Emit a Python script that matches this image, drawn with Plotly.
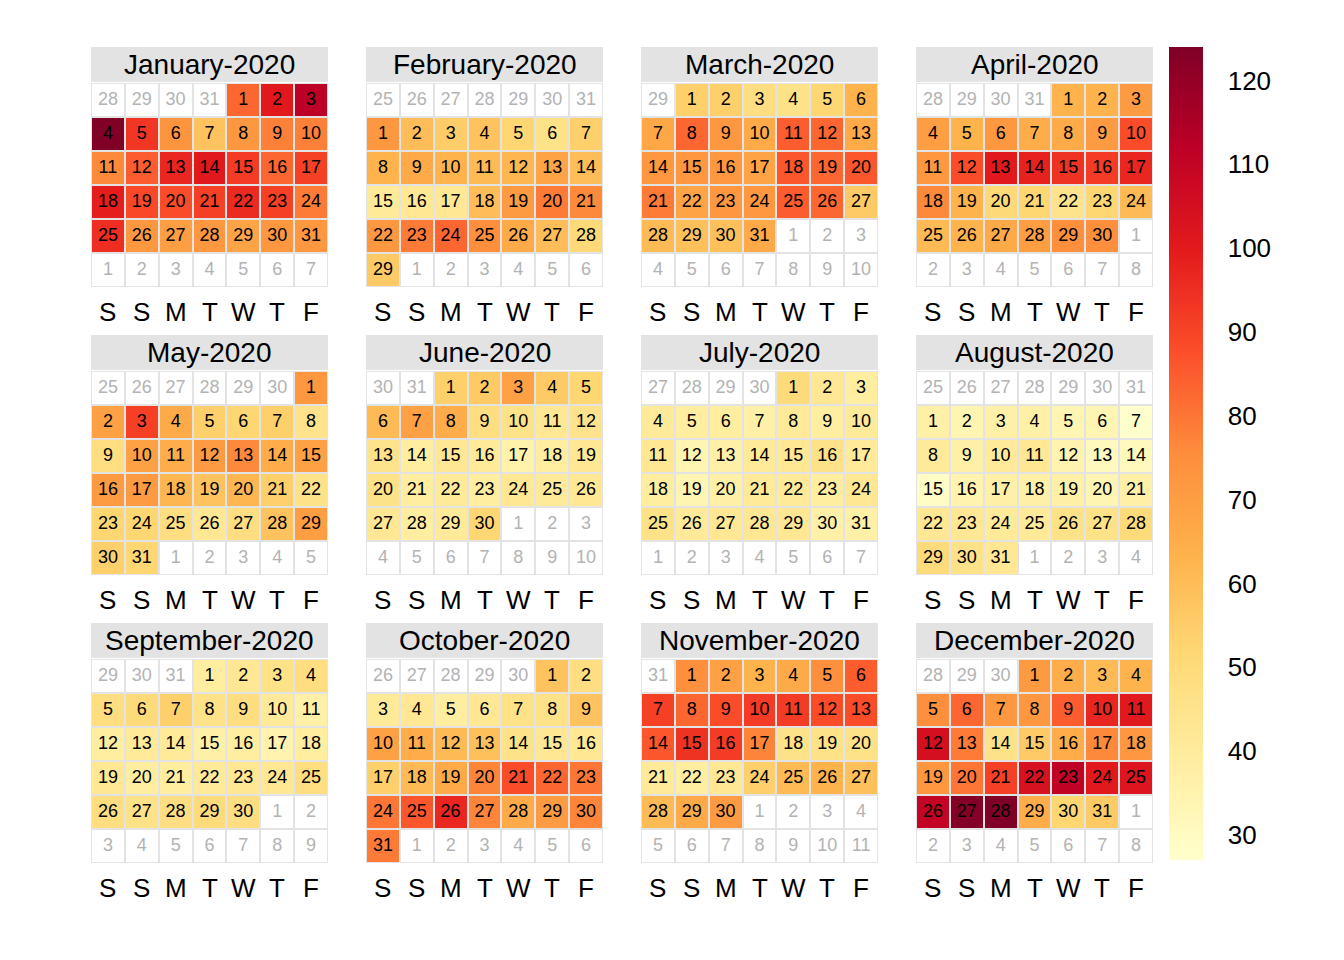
import calendar
import datetime as dt
import numpy as np
import plotly.graph_objects as go

# daily values, one list per month (2020)
jan = [83, 100, 112, 124, 93, 73, 58, 72, 78, 78, 76, 85, 97, 100, 92, 83, 91, 99, 89, 88,
       91, 96, 91, 79, 95, 72, 70, 72, 68, 72, 72]
feb = [72, 60, 55, 58, 52, 46, 54, 63, 66, 63, 61, 62, 68, 60, 41, 43, 43, 60, 71, 79,
       76, 72, 79, 83, 75, 66, 60, 51, 56]
mar = [54, 54, 48, 46, 52, 63, 67, 83, 72, 66, 85, 83, 66, 72, 72, 72, 68, 86, 83, 86,
       79, 68, 72, 72, 85, 83, 56, 61, 59, 59, 66]
apr = [63, 63, 71, 70, 63, 72, 65, 66, 71, 88, 72, 88, 100, 98, 94, 92, 97, 76, 63, 51,
       52, 45, 52, 61, 61, 63, 66, 70, 75, 75]
may = [72, 69, 91, 66, 54, 52, 54, 45, 48, 69, 65, 71, 76, 65, 69, 71, 71, 62, 58, 62,
       54, 46, 52, 52, 48, 43, 48, 58, 70, 54, 52]
jun = [54, 56, 69, 56, 52, 61, 69, 65, 48, 46, 43, 45, 45, 39, 43, 41, 36, 39, 43, 46,
       39, 41, 39, 43, 41, 43, 43, 39, 41, 52]
jul = [50, 43, 39, 41, 39, 39, 37, 41, 39, 41, 43, 34, 37, 41, 43, 46, 41, 39, 34, 37,
       41, 41, 39, 43, 46, 41, 43, 43, 43, 37, 37]
aug = [37, 34, 37, 37, 34, 34, 27, 41, 37, 41, 43, 35, 31, 31, 29, 35, 37, 37, 37, 34,
       37, 43, 43, 41, 41, 46, 46, 50, 50, 46, 43]
sep = [39, 43, 46, 48, 48, 50, 54, 46, 48, 41, 37, 39, 41, 41, 37, 39, 35, 39, 43, 39,
       39, 41, 43, 43, 48, 48, 46, 48, 50, 48]
oct = [58, 48, 41, 43, 39, 43, 46, 46, 58, 69, 65, 61, 59, 46, 43, 43, 54, 61, 66, 77,
       88, 83, 80, 80, 86, 97, 77, 66, 71, 77, 79]
nov = [75, 69, 63, 66, 75, 85, 91, 83, 88, 92, 92, 88, 88, 86, 94, 92, 77, 46, 46, 46,
       41, 39, 43, 54, 61, 63, 59, 61, 66, 71]
dec = [71, 65, 61, 63, 75, 83, 72, 72, 85, 97, 100, 105, 79, 46, 56, 65, 76, 72, 72, 80,
       91, 104, 111, 100, 102, 110, 123, 124, 65, 52, 56]

months = [jan, feb, mar, apr, may, jun, jul, aug, sep, oct, nov, dec]
month_names = ["January", "February", "March", "April", "May", "June", "July",
               "August", "September", "October", "November", "December"]
weekdays = ["S", "S", "M", "T", "W", "T", "F"]
year = 2020

ylorrd = ["#ffffcc", "#ffeda0", "#fed976", "#feb24c", "#fd8d3c",
          "#fc4e2a", "#e31a1c", "#bd0026", "#800026"]
colorscale = [[i / 8, c] for i, c in enumerate(ylorrd)]

W, H = 1344, 960
OFF = 8  # page body margin
col_left = [91 - OFF, 366 - OFF, 641 - OFF, 916 - OFF]
grid_top = [83 - OFF, 371 - OFF, 659 - OFF]
panel_w, cell_h = 237, 34

fig = go.Figure()
annotations = []
shapes = []
all_vals = [v for m in months for v in m]

for i, vals in enumerate(months):
    m = i + 1
    r, c = divmod(i, 4)
    k = i + 1
    xa = "x" if k == 1 else f"x{k}"
    ya = "y" if k == 1 else f"y{k}"

    first = dt.date(year, m, 1)
    lead = (first.weekday() + 2) % 7 or 7
    prev_m = 12 if m == 1 else m - 1
    prev_y = year - 1 if m == 1 else year
    prev_len = calendar.monthrange(prev_y, prev_m)[1]
    ndays = len(vals)

    z = np.full((6, 7), np.nan)
    tx, ty, tt, tc = [], [], [], []
    for idx in range(42):
        row, col = divmod(idx, 7)
        if idx < lead:
            day, cur = prev_len - lead + idx + 1, False
        elif idx < lead + ndays:
            day, cur = idx - lead + 1, True
            z[row, col] = vals[day - 1]
        else:
            day, cur = idx - lead - ndays + 1, False
        tx.append(col)
        ty.append(row)
        tt.append(str(day))
        tc.append("#000000" if cur else "#b3b3b3")

    fig.add_trace(go.Heatmap(
        z=np.zeros((6, 7)), x=list(range(7)), y=list(range(6)),
        colorscale=[[0, "white"], [1, "white"]], showscale=False,
        xgap=2, ygap=2, hoverinfo="skip", xaxis=xa, yaxis=ya))
    fig.add_trace(go.Heatmap(
        z=z, x=list(range(7)), y=list(range(6)), coloraxis="coloraxis",
        xgap=2, ygap=2, xaxis=xa, yaxis=ya,
        hovertemplate=month_names[i] + " %{text}<extra>%{z}</extra>",
        text=np.array(tt).reshape(6, 7)))
    fig.add_trace(go.Scatter(
        x=tx, y=ty, text=tt, mode="text",
        textfont=dict(family="Liberation Sans, Arial", size=18, color=tc),
        hoverinfo="skip", showlegend=False, xaxis=xa, yaxis=ya))

    x0 = col_left[c]
    x1 = x0 + panel_w
    top = grid_top[r]
    bottom = top + 6 * cell_h
    fig.layout[f"xaxis{k if k > 1 else ''}"] = dict(
        domain=[x0 / W, x1 / W], range=[-0.5, 6.5], visible=False, fixedrange=True,
        anchor=ya)
    fig.layout[f"yaxis{k if k > 1 else ''}"] = dict(
        domain=[1 - bottom / H, 1 - top / H], range=[5.5, -0.5], visible=False,
        fixedrange=True, anchor=xa)

    # header strip
    shapes.append(dict(type="rect", xref="paper", yref="paper",
                       x0=x0 / W, x1=x1 / W, y0=1 - (top - 1) / H, y1=1 - (top - 36) / H,
                       fillcolor="#e3e3e3", line_width=0, layer="below"))
    annotations.append(dict(
        text=f"{month_names[i]}-{year}", xref="paper", yref="paper",
        x=(x0 + x1) / 2 / W, y=1 - (top - 19) / H, showarrow=False,
        xanchor="center", yanchor="middle",
        font=dict(family="Liberation Sans, Arial", size=28, color="black")))
    for j, wd in enumerate(weekdays):
        annotations.append(dict(
            text=wd, xref="paper", yref="paper",
            x=(x0 + panel_w * (j + 0.5) / 7) / W, y=1 - (bottom + 25) / H,
            showarrow=False, xanchor="center", yanchor="middle",
            font=dict(family="Liberation Sans, Arial", size=26, color="black")))

fig.update_layout(
    width=W, height=H,
    margin=dict(l=0, r=0, t=0, b=0),
    paper_bgcolor="white", plot_bgcolor="#e3e3e3",
    showlegend=False,
    annotations=annotations, shapes=shapes,
    coloraxis=dict(
        colorscale=colorscale, cmin=min(all_vals), cmax=max(all_vals),
        colorbar=dict(
            thicknessmode="pixels", thickness=34, lenmode="pixels", len=813,
            x=(1169 - OFF) / W, xanchor="left", xpad=0,
            y=1 - (453.5 - OFF) / H, yanchor="middle", ypad=0,
            outlinewidth=0, tickvals=list(range(30, 130, 10)),
            ticks="outside", ticklen=20, tickcolor="rgba(0,0,0,0)",
            tickfont=dict(family="Liberation Sans, Arial", size=26, color="black"))),
)

fig.write_html("out.html")
